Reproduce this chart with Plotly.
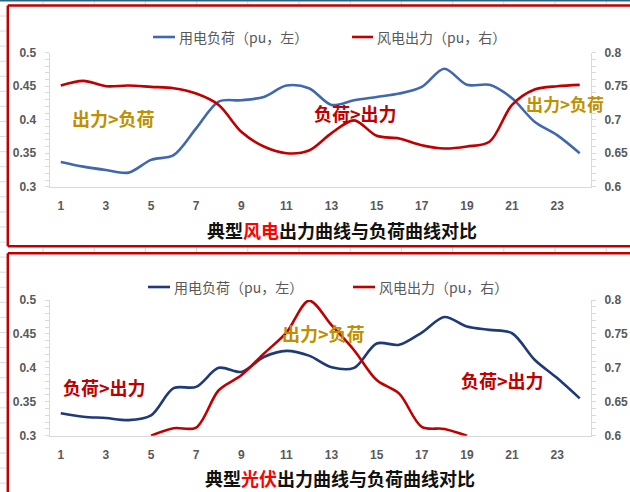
import plotly.graph_objects as go

W, H = 630, 492

# ---- data -------------------------------------------------------------
hours = list(range(1, 25))
tick_hours = list(range(1, 24, 2))

# typical wind day
wind_load = [0.337, 0.330, 0.325, 0.321, 0.340, 0.347, 0.387, 0.427, 0.429, 0.434, 0.451, 0.447,
             0.422, 0.429, 0.434, 0.439, 0.449, 0.476, 0.452, 0.452, 0.432, 0.397, 0.377, 0.350]
wind_output = [0.751, 0.758, 0.750, 0.751, 0.749, 0.747, 0.739, 0.722, 0.682, 0.660, 0.650, 0.654,
               0.680, 0.699, 0.676, 0.672, 0.662, 0.657, 0.660, 0.667, 0.722, 0.745, 0.750, 0.752]

# typical PV day (no output at night)
pv_load = [0.333, 0.328, 0.326, 0.323, 0.330, 0.370, 0.372, 0.400, 0.394, 0.416, 0.425, 0.418,
           0.401, 0.400, 0.436, 0.434, 0.452, 0.475, 0.461, 0.456, 0.451, 0.412, 0.385, 0.355]
pv_output = [None, None, None, None,
             0.600, 0.611, 0.612, 0.667, 0.689, 0.721, 0.752, 0.799,
             0.763, 0.726, 0.682, 0.662, 0.613, 0.610, 0.600,
             None, None, None, None, None]

load_name = "用电负荷（pu，左）"
output_name = "风电出力（pu，右）"

# ---- styling ----------------------------------------------------------
BLUE_TOP = "#3F68B0"
BLUE_BOT = "#1F3A78"
RED = "#C00000"
GOLD = "#BF9000"
AXIS_GRAY = "#D9D9D9"
LABEL_GRAY = "#595959"
CJK = "Noto Sans CJK SC"
NUM = "Liberation Sans"


def px(x):
    return x / W


def py(y):
    return 1 - y / H


X_DOMAIN = [px(49.5), px(591)]
TOP_DOMAIN = [py(186.7), py(52.7)]
BOT_DOMAIN = [py(435.7), py(300)]

fig = go.Figure()

fig.add_trace(go.Scatter(x=hours, y=wind_load, name=load_name, mode="lines",
                         line=dict(color=BLUE_TOP, width=2.6, shape="spline", smoothing=0.9),
                         xaxis="x", yaxis="y"))
fig.add_trace(go.Scatter(x=hours, y=wind_output, name=output_name, mode="lines",
                         line=dict(color=RED, width=2.6, shape="spline", smoothing=0.9),
                         xaxis="x", yaxis="y2"))
fig.add_trace(go.Scatter(x=hours, y=pv_load, name=load_name, mode="lines",
                         line=dict(color=BLUE_BOT, width=2.6, shape="spline", smoothing=0.9),
                         xaxis="x2", yaxis="y3"))
fig.add_trace(go.Scatter(x=hours, y=pv_output, name=output_name, mode="lines",
                         line=dict(color=RED, width=2.6, shape="spline", smoothing=0.9),
                         connectgaps=False, xaxis="x2", yaxis="y4"))

tick_font = dict(family=NUM, size=12, color=LABEL_GRAY, weight="bold")


def x_axis(anchor):
    return dict(domain=X_DOMAIN, anchor=anchor, range=[0.5, 24.5],
                tickmode="array", tickvals=tick_hours, ticktext=[str(h) for h in tick_hours],
                showline=True, linecolor=AXIS_GRAY, linewidth=1, ticks="",
                showgrid=False, zeroline=False, tickfont=tick_font, ticklabelstandoff=8,
                automargin=False)


def y_axis(domain, rng, side="left", overlaying=None, anchor="x"):
    d = dict(domain=domain, range=rng, dtick=0.05, tick0=rng[0], side=side, anchor=anchor,
             showline=True, linecolor=AXIS_GRAY, linewidth=1,
             ticks="outside", ticklen=4, tickcolor=AXIS_GRAY,
             minor=dict(dtick=0.01, ticks="outside", ticklen=4, tickcolor=AXIS_GRAY, showgrid=False),
             showgrid=False, zeroline=False, tickfont=tick_font, ticklabelstandoff=6,
             automargin=False)
    if overlaying:
        d["overlaying"] = overlaying
    return d


fig.update_layout(
    width=W, height=H, autosize=False,
    margin=dict(l=0, r=0, t=0, b=0, pad=0, autoexpand=False),
    paper_bgcolor="white", plot_bgcolor="white",
    showlegend=False,
    xaxis=x_axis("y"),
    yaxis=y_axis(TOP_DOMAIN, [0.3, 0.5], anchor="x"),
    yaxis2=y_axis(TOP_DOMAIN, [0.6, 0.8], side="right", overlaying="y", anchor="x"),
    xaxis2=x_axis("y3"),
    yaxis3=y_axis(BOT_DOMAIN, [0.3, 0.5], anchor="x2"),
    yaxis4=y_axis(BOT_DOMAIN, [0.6, 0.8], side="right", overlaying="y3", anchor="x2"),
)

shapes = []


def hline(x0, x1, y, color, width):
    shapes.append(dict(type="line", xref="paper", yref="paper",
                       x0=px(x0), x1=px(x1), y0=py(y), y1=py(y),
                       line=dict(color=color, width=width)))


def vline(x, y0, y1, color, width):
    shapes.append(dict(type="line", xref="paper", yref="paper",
                       x0=px(x), x1=px(x), y0=py(y0), y1=py(y1),
                       line=dict(color=color, width=width)))


# worksheet grid peeking out around the chart frames
for k in range(32):
    hline(0, 6.5, 16 + 15.07 * k, "#DCDCDC", 1)
for k in range(12):
    cx = 43 + 51.2 * k
    vline(cx, 1.5, 4.3, "#D0D0D0", 1)
    vline(cx, 247.3, 252.3, "#D0D0D0", 1)
hline(0, W, 0.7, "#2B6688", 1.6)

# red frames around both charts
hline(7.8, W, 5.5, RED, 2.5)
vline(7.8, 5.5, 246.3, RED, 2.5)
hline(7.8, W, 246.3, RED, 2.5)
hline(7.8, W, 253.3, RED, 2.5)
vline(7.8, 253.3, H, RED, 2.5)

annotations = []


def text(x, y, s, size, color, xanchor="center", bold=False, family=CJK):
    annotations.append(dict(xref="paper", yref="paper", x=px(x), y=py(y), text=s,
                            showarrow=False, xanchor=xanchor, yanchor="middle",
                            font=dict(family=family, size=size, color=color,
                                      weight="bold" if bold else "normal")))


# legends
legend_rows = [
    (37, [(153, 175, BLUE_TOP, load_name), (352, 373, RED, output_name)]),
    (287, [(148, 170, BLUE_BOT, load_name), (353, 375, RED, output_name)]),
]
for ly, entries in legend_rows:
    for x0, x1, color, label in entries:
        hline(x0, x1, ly, color, 2.6)
        text(x1 + 2, ly, label, 14, LABEL_GRAY, xanchor="left")

# chart titles
text(342, 230, "典型<span style='color:#FF0000'>风电</span>出力曲线与负荷曲线对比", 18, "#111111", bold=True)
text(340, 478, "典型<span style='color:#FF0000'>光伏</span>出力曲线与负荷曲线对比", 18, "#111111", bold=True)

# region notes
gt = "&gt;"
text(113.5, 118, f"出力{gt}负荷", 18, GOLD, bold=True)
text(355, 113, f"负荷{gt}出力", 18, RED, bold=True)
text(565, 103, f"出力{gt}负荷", 17, GOLD, bold=True)
text(104, 387, f"负荷{gt}出力", 18, RED, bold=True)
text(323.5, 333, f"出力{gt}负荷", 18, GOLD, bold=True)
text(502.5, 380, f"负荷{gt}出力", 18, RED, bold=True)

fig.update_layout(shapes=shapes, annotations=annotations)

fig.write_html("out.html")
